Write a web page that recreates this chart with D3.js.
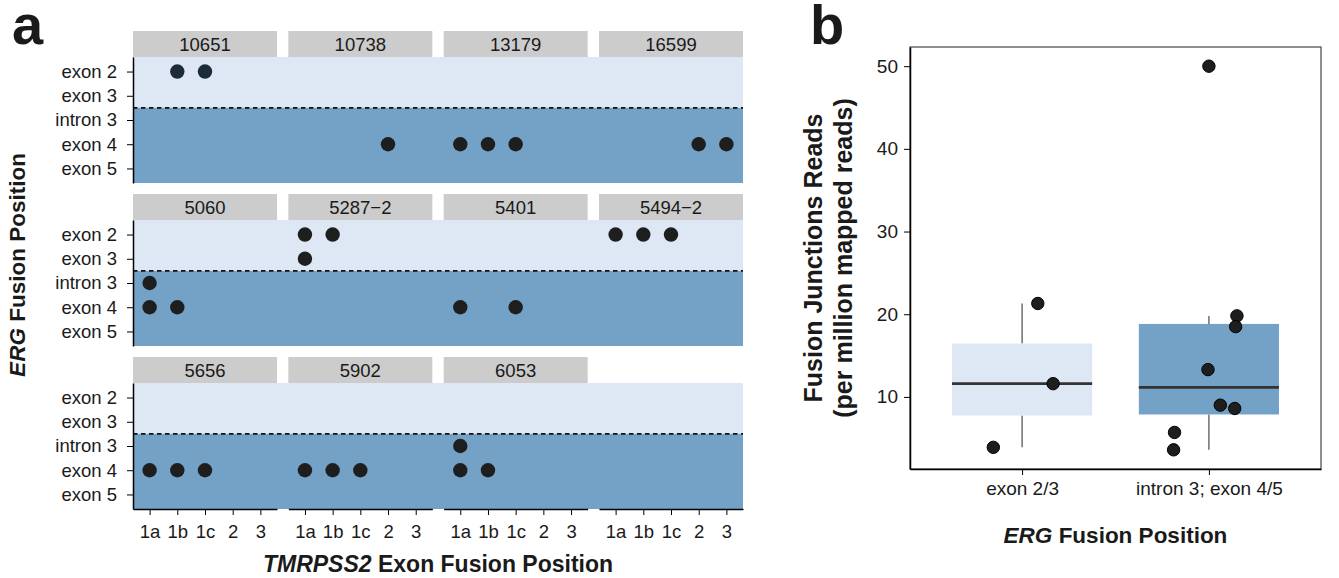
<!DOCTYPE html>
<html>
<head>
<meta charset="utf-8">
<script src="https://cdn.jsdelivr.net/npm/d3@7"></script>
<style>
  body { margin: 0; background: #fff; }
  text { font-family: "Liberation Sans", Arial, Helvetica, sans-serif; fill: #1a1a1a; }
</style>
</head>
<body>
<script>
// panel a: fusion positions per sample
const samples = ["10651", "10738", "13179", "16599", "5060", "5287\u22122", "5401", "5494\u22122", "5656", "5902", "6053"];
const tmprss2Levels = ["1a", "1b", "1c", "2", "3"];
const ergLevels = ["exon 2", "exon 3", "intron 3", "exon 4", "exon 5"];

const fusionSample = ["10651", "10651", "10738", "13179", "13179", "13179", "16599", "16599",
                      "5060", "5060", "5060", "5287\u22122", "5287\u22122", "5287\u22122",
                      "5401", "5401", "5494\u22122", "5494\u22122", "5494\u22122",
                      "5656", "5656", "5656", "5902", "5902", "5902", "6053", "6053", "6053"];
const fusionTmprss2 = ["1b", "1c", "2", "1a", "1b", "1c", "2", "3",
                       "1a", "1a", "1b", "1a", "1b", "1a",
                       "1a", "1c", "1a", "1b", "1c",
                       "1a", "1b", "1c", "1a", "1b", "1c", "1a", "1a", "1b"];
const fusionErg = ["exon 2", "exon 2", "exon 4", "exon 4", "exon 4", "exon 4", "exon 4", "exon 4",
                   "intron 3", "exon 4", "exon 4", "exon 2", "exon 2", "exon 3",
                   "exon 4", "exon 4", "exon 2", "exon 2", "exon 2",
                   "exon 4", "exon 4", "exon 4", "exon 4", "exon 4", "exon 4", "intron 3", "exon 4", "exon 4"];

// panel b: junction reads per group
const groups = ["exon 2/3", "intron 3; exon 4/5"];
const exon23Reads = [21.3, 11.6, 3.9];
const exon23Jitter = [0.084, 0.166, -0.154];
const intronReads = [50.0, 19.8, 18.5, 13.3, 9.0, 8.6, 5.7, 3.6];
const intronJitter = [0.0, 0.150, 0.143, -0.005, 0.061, 0.138, -0.184, -0.189];
const readTicks = [10, 20, 30, 40, 50];

const lightBlue = "#dde8f4", darkBlue = "#74a1c6";

const W = 1339, H = 578;
const svg = d3.select("body").append("svg").attr("width", W).attr("height", H);

// ---------- panel a ----------
let aLeft = 133, aRight = 743, aTop = 31;
let stripH = 26, panelH = 126, gapY = 11, nCol = 4;
let panelW = 144;
let gapX = (aRight - aLeft - nCol * panelW) / (nCol - 1);
let nRow = Math.ceil(samples.length / nCol);

let x = d3.scalePoint().domain(tmprss2Levels).range([0, panelW]).padding(0.6);
let y = d3.scalePoint().domain(ergLevels).range([0, panelH]).padding(0.6);
let split = (y("exon 3") + y("intron 3")) / 2;

const a = svg.append("g");

for (let r = 0; r < nRow; r++) {
    let py = aTop + r * (stripH + panelH + gapY) + stripH;
    // row-wide background bands
    a.append("rect").attr("x", aLeft).attr("y", py).attr("width", aRight - aLeft).attr("height", split)
        .attr("fill", lightBlue);
    a.append("rect").attr("x", aLeft).attr("y", py + split).attr("width", aRight - aLeft).attr("height", panelH - split)
        .attr("fill", darkBlue);
    a.append("line").attr("x1", aLeft).attr("x2", aRight).attr("y1", py + split).attr("y2", py + split)
        .attr("stroke", "#111").attr("stroke-width", 1.8).attr("stroke-dasharray", "4.5,3.5");

    // left axis
    a.append("g").attr("transform", `translate(${aLeft},${py})`)
        .call(d3.axisLeft(y).tickSize(6).tickPadding(10).tickSizeOuter(0))
        .call(g => g.select(".domain").attr("stroke", "#000").attr("stroke-width", 1.5))
        .call(g => g.selectAll("text").style("font-size", "18.5px").attr("fill", "#1a1a1a"));
}

samples.forEach((s, i) => {
    let c = i % nCol, r = Math.floor(i / nCol);
    let px = aLeft + c * (panelW + gapX);
    let sy = aTop + r * (stripH + panelH + gapY);
    a.append("rect").attr("x", px).attr("y", sy).attr("width", panelW).attr("height", stripH).attr("fill", "#cccccc");
    a.append("text").attr("x", px + panelW / 2).attr("y", sy + stripH / 2).attr("dy", "0.36em")
        .attr("text-anchor", "middle").style("font-size", "18.5px").text(s);

    let g = a.append("g").attr("transform", `translate(${px},${sy + stripH})`);
    let idx = d3.range(fusionSample.length).filter(k => fusionSample[k] === s);
    g.selectAll("circle").data(idx).join("circle")
        .attr("cx", k => x(fusionTmprss2[k]))
        .attr("cy", k => y(fusionErg[k]))
        .attr("r", 7.2)
        .attr("fill", s === "10651" ? "#1d2b38" : "#1e1e1e");
});

// bottom axes (also under the empty slot of the last row)
let bottomY = aTop + (nRow - 1) * (stripH + panelH + gapY) + stripH + panelH;
for (let c = 0; c < nCol; c++) {
    let px = aLeft + c * (panelW + gapX);
    a.append("g").attr("transform", `translate(${px},${bottomY})`)
        .call(d3.axisBottom(x).tickSize(6).tickPadding(10).tickSizeOuter(0))
        .call(g => g.select(".domain").attr("stroke", "#000").attr("stroke-width", 1.5))
        .call(g => g.selectAll("text").style("font-size", "18.5px").attr("fill", "#1a1a1a"));
}

// titles panel a
a.append("text").attr("transform", `translate(25,265) rotate(-90)`).attr("text-anchor", "middle")
    .style("font-size", "22.5px").style("font-weight", "bold")
    .call(t => t.append("tspan").style("font-style", "italic").text("ERG"))
    .call(t => t.append("tspan").text(" Fusion Position"));
a.append("text").attr("x", (aLeft + aRight) / 2).attr("y", 572).attr("text-anchor", "middle")
    .style("font-size", "23px").style("font-weight", "bold")
    .call(t => t.append("tspan").style("font-style", "italic").text("TMRPSS2"))
    .call(t => t.append("tspan").text(" Exon Fusion Position"));
svg.append("text").attr("x", 12).attr("y", 44).style("font-size", "56px").style("font-weight", "bold").text("a");

// ---------- panel b ----------
let bL = 910, bR = 1321, bT = 47, bB = 469;
const b = svg.append("g");

let allReads = exon23Reads.concat(intronReads);
let ext = d3.extent(allReads);
let pad = (ext[1] - ext[0]) * 0.05;
let yb = d3.scaleLinear().domain([ext[0] - pad, ext[1] + pad]).range([bB, bT]);
let xb = d3.scalePoint().domain(groups).range([bL, bR]).padding(0.6);
let boxW = xb.step() * 0.75;

b.append("rect").attr("x", bL).attr("y", bT).attr("width", bR - bL).attr("height", bB - bT)
    .attr("fill", "none").attr("stroke", "#444").attr("stroke-width", 1.2);

let groupReads = [exon23Reads, intronReads];
let groupJitter = [exon23Jitter, intronJitter];
let groupFill = [lightBlue, darkBlue];

groups.forEach((grp, i) => {
    let vals = groupReads[i].slice().sort(d3.ascending);
    let q1 = d3.quantile(vals, 0.25), med = d3.quantile(vals, 0.5), q3 = d3.quantile(vals, 0.75);
    let iqr = q3 - q1;
    let lo = d3.min(vals.filter(v => v >= q1 - 1.5 * iqr));
    let hi = d3.max(vals.filter(v => v <= q3 + 1.5 * iqr));
    let cx = xb(grp);

    b.append("line").attr("x1", cx).attr("x2", cx).attr("y1", yb(hi)).attr("y2", yb(q3))
        .attr("stroke", "#4a4a4a").attr("stroke-width", 1.2);
    b.append("line").attr("x1", cx).attr("x2", cx).attr("y1", yb(q1)).attr("y2", yb(lo))
        .attr("stroke", "#4a4a4a").attr("stroke-width", 1.2);
    b.append("rect").attr("x", cx - boxW / 2).attr("y", yb(q3)).attr("width", boxW).attr("height", yb(q1) - yb(q3))
        .attr("fill", groupFill[i]);
    b.append("line").attr("x1", cx - boxW / 2).attr("x2", cx + boxW / 2).attr("y1", yb(med)).attr("y2", yb(med))
        .attr("stroke", "#333").attr("stroke-width", 2.6);

    b.append("g").selectAll("circle").data(groupReads[i]).join("circle")
        .attr("cx", (d, k) => cx + groupJitter[i][k] * xb.step())
        .attr("cy", d => yb(d))
        .attr("r", 6.2)
        .attr("fill", "#1e1e1e").attr("stroke", "#000").attr("stroke-width", 1);
});

b.append("g").attr("transform", `translate(${bL},0)`)
    .call(d3.axisLeft(yb).tickValues(readTicks).tickSize(6).tickPadding(6).tickSizeOuter(0))
    .call(g => g.select(".domain").attr("stroke", "#000").attr("stroke-width", 1.5))
    .call(g => g.selectAll("text").style("font-size", "19px").attr("fill", "#1a1a1a"));
b.append("g").attr("transform", `translate(0,${bB})`)
    .call(d3.axisBottom(xb).tickSize(6).tickPadding(7).tickSizeOuter(0))
    .call(g => g.select(".domain").attr("stroke", "#000").attr("stroke-width", 1.5))
    .call(g => g.selectAll("text").style("font-size", "19px").attr("fill", "#1a1a1a"));

b.append("text").attr("x", (bL + bR) / 2).attr("y", 543).attr("text-anchor", "middle")
    .style("font-size", "22.5px").style("font-weight", "bold")
    .call(t => t.append("tspan").style("font-style", "italic").text("ERG"))
    .call(t => t.append("tspan").text(" Fusion Position"));
b.append("text").attr("transform", `translate(822,${(bT + bB) / 2}) rotate(-90)`).attr("text-anchor", "middle")
    .style("font-size", "25px").style("font-weight", "bold").text("Fusion Junctions Reads");
b.append("text").attr("transform", `translate(852,${(bT + bB) / 2}) rotate(-90)`).attr("text-anchor", "middle")
    .style("font-size", "25px").style("font-weight", "bold").text("(per million mapped reads)");
svg.append("text").attr("x", 810).attr("y", 44).style("font-size", "56px").style("font-weight", "bold").text("b");
</script>
</body>
</html>
